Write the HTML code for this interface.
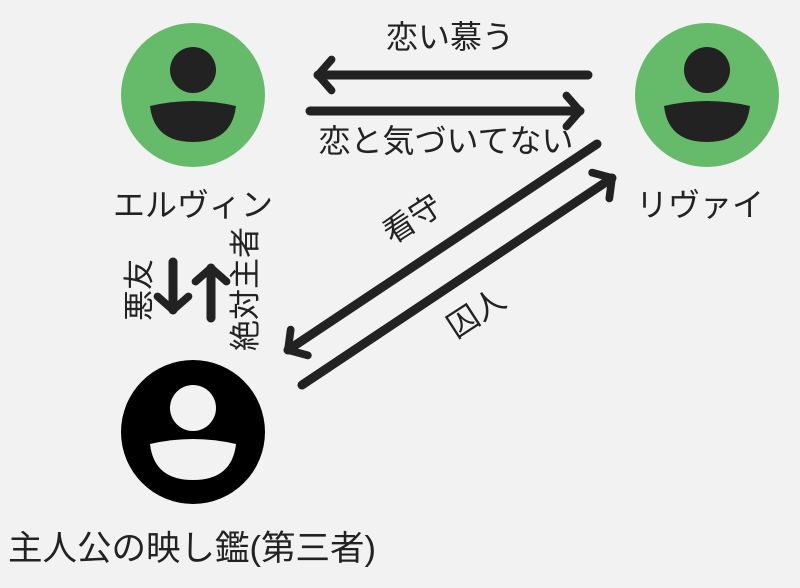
<!DOCTYPE html>
<html><head><meta charset="utf-8"><style>
html,body{margin:0;padding:0;background:#f2f2f2;}
svg{display:block}
text{font-family:"Liberation Sans","Noto Sans CJK JP",sans-serif;fill:#222;}
</style></head><body>
<svg width="800" height="588" viewBox="0 0 800 588" xmlns="http://www.w3.org/2000/svg">
<rect width="800" height="588" fill="#f2f2f2"/>
<defs>
<marker id="ah" viewBox="0 0 10 10" refX="5" refY="5" markerWidth="4.3" markerHeight="4.3" orient="auto-start-reverse" markerUnits="strokeWidth">
<path d="M1.5,1 L5,5 L1.5,9" fill="none" stroke="#222" stroke-width="2" stroke-linecap="round" stroke-linejoin="round"/>
</marker>
</defs>
<circle cx="193" cy="95" r="72" fill="#66bb6a"/>
<circle cx="193" cy="70" r="23" fill="#222"/>
<path d="M150,106 Q193,96 236,106 Q232,142 193,142 Q154,142 150,106 Z" fill="#222"/>
<circle cx="707" cy="95" r="72" fill="#66bb6a"/>
<circle cx="707" cy="70" r="23" fill="#222"/>
<path d="M664,106 Q707,96 750,106 Q746,142 707,142 Q668,142 664,106 Z" fill="#222"/>
<circle cx="193" cy="432" r="72" fill="#000"/>
<circle cx="193" cy="408" r="23" fill="#f2f2f2"/>
<path d="M150,444 Q193,434 236,444 Q232,480 193,480 Q154,480 150,444 Z" fill="#f2f2f2"/>
<g stroke="#222" stroke-width="9" stroke-linecap="round" fill="none">
<line x1="588" y1="75" x2="318" y2="75" marker-end="url(#ah)"/>
<line x1="310" y1="111" x2="580" y2="111" marker-end="url(#ah)"/>
<line x1="597" y1="144" x2="288" y2="350" marker-end="url(#ah)"/>
<line x1="302" y1="385" x2="612" y2="178" marker-end="url(#ah)"/>
<line x1="173" y1="262" x2="173" y2="310" marker-end="url(#ah)"/>
<line x1="211" y1="318" x2="211" y2="268" marker-end="url(#ah)"/>
</g>
<text x="450" y="48" font-size="32" text-anchor="middle">恋い慕う</text>
<text x="446" y="152" font-size="32" text-anchor="middle">恋と気づいてない</text>
<text x="193" y="216" font-size="32" text-anchor="middle">エルヴィン</text>
<text x="700" y="216" font-size="32" text-anchor="middle">リヴァイ</text>
<text x="0" y="0" font-size="31" text-anchor="middle" transform="translate(418,228) rotate(-33)">看守</text>
<text x="0" y="0" font-size="31" text-anchor="middle" transform="translate(482,322) rotate(-33)">囚人</text>
<text x="0" y="0" font-size="31" text-anchor="middle" transform="translate(150,290) rotate(-90)">悪友</text>
<text x="0" y="0" font-size="31" text-anchor="middle" transform="translate(256,289) rotate(-90)">絶対主者</text>
<text x="8" y="560" font-size="34.5">主人公の映し鑑(第三者)</text>
</svg>
</body></html>
